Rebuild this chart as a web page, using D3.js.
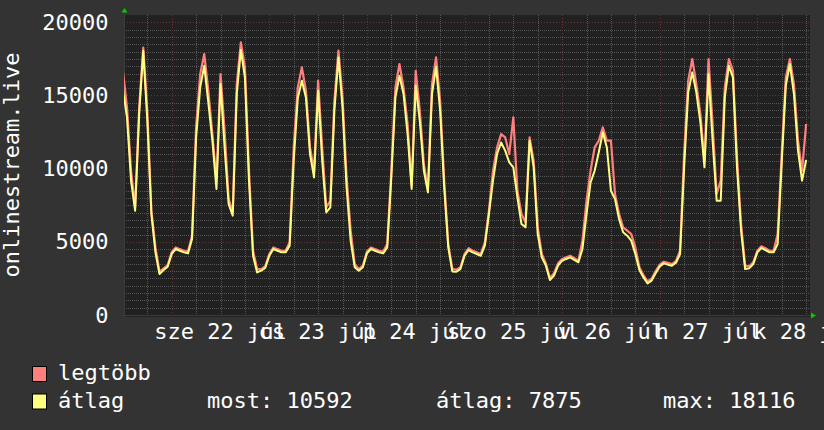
<!DOCTYPE html>
<html>
<head>
<meta charset="utf-8">
<script src="https://cdn.jsdelivr.net/npm/d3@7/dist/d3.min.js"></script>
<style>
  body { margin: 0; background: #333333; }
  text { font-family: "DejaVu Sans Mono", monospace; fill: #ffffff; }
</style>
</head>
<body>
<div id="vis-container"></div>
<script>
// hourly samples, starting 21 Jul 12:00
var startTime = new Date(2015, 6, 21, 12, 0);

// "átlag" series (average)
var avgValues = [
  15440, 13500, 9180, 7130, 13730, 18060, 13270, 6900, 4280, 2800,
  3070, 3300, 4170, 4510, 4390, 4280, 4210, 5190, 12140, 15550,
  17030, 14530, 11910, 8610, 15780, 11450, 7580, 6790, 15100, 18116,
  16230, 9180, 4050, 2910, 3030, 3210, 4050, 4510, 4390, 4280,
  4280, 4740, 10540, 14820, 16010, 14870, 11000, 9400, 15320, 10540,
  7010, 7350, 13960, 17600, 14190, 8720, 5080, 3260, 3030, 3260,
  4210, 4510, 4390, 4280, 4210, 4620, 9400, 14870, 16350, 15100,
  12360, 8610, 15670, 13270, 9860, 8380, 15100, 16960, 13960, 8720,
  4620, 2980, 2960, 3140, 4050, 4440, 4280, 4170, 4050, 4740,
  6900, 9180, 11000, 11790, 11230, 10430, 10090, 8040, 6220, 5990,
  11910, 10090, 5530, 3940, 3370, 2390, 2690, 3370, 3710, 3830,
  3940, 3760, 3600, 4510, 6900, 9060, 9860, 11110, 12480, 11450,
  8490, 7920, 6560, 5650, 5420, 5080, 4170, 3070, 2570, 2160,
  2350, 2850, 3320, 3530, 3440, 3370, 3570, 4170, 10090, 15210,
  16580, 15210, 13160, 10090, 16460, 11910, 7810, 7810, 14870, 17030,
  16230, 10090, 5760, 3140, 3190, 3480, 4280, 4580, 4440, 4280,
  4280, 4850, 10430, 15670, 17150, 15100, 11230, 9180, 10592
];

// "legtöbb" series (maximum)
var maxValues = [
  16690, 14190, 9860, 7350, 14190, 18280, 13960, 7130, 4620, 2950,
  3180, 3400, 4300, 4620, 4500, 4390, 4330, 5420, 12820, 16460,
  17830, 15320, 12360, 9180, 16460, 12590, 7920, 7020, 15780, 18630,
  16920, 9860, 4390, 3140, 3140, 3330, 4170, 4620, 4500, 4390,
  4390, 4970, 11450, 15550, 16920, 15320, 11450, 9860, 16010, 11450,
  7350, 7810, 14640, 18060, 14870, 9400, 5760, 3480, 3140, 3370,
  4330, 4620, 4500, 4390, 4330, 4850, 9860, 15550, 17150, 15550,
  13050, 8840, 16690, 13960, 10320, 8610, 15780, 17600, 14640, 9180,
  4850, 3140, 3100, 3260, 4170, 4560, 4390, 4280, 4170, 4970,
  7130, 9860, 11450, 12360, 12140, 11000, 13500, 8490, 6900, 6330,
  12140, 10540, 5990, 4170, 3530, 2530, 2850, 3530, 3830, 3940,
  4050, 3880, 3710, 5080, 7810, 9860, 11450, 11910, 12820, 11910,
  11910, 8270, 6900, 5990, 5760, 5530, 4620, 3260, 2720, 2300,
  2480, 3000, 3440, 3640, 3560, 3480, 3690, 4390, 11000, 16010,
  17490, 15780, 13730, 10540, 17490, 13050, 8270, 9180, 15550, 17490,
  16690, 10770, 6220, 3370, 3330, 3600, 4390, 4690, 4560, 4390,
  4390, 5530, 11000, 16230, 17490, 15780, 11910, 9860, 13050
];

// x labels (one per day, centred at noon)
var dayNames = ["sze", "cs", "p", "szo", "v", "h", "k"];
var dayNums = [22, 23, 24, 25, 26, 27, 28];
var monthName = "júl";

var yTicks = [0, 5000, 10000, 15000, 20000];
var yLabel = "onlinestream.live";

var seriesNames = ["legtöbb", "átlag"];
var statLabels = ["most:", "átlag:", "max:"];
var statValues = [10592, 7875, 18116];

var width = 824;
var height = 430;
var plot = { left: 124, right: 810, top: 15, bottom: 315 };

var svg = d3.select("#vis-container").append("svg")
    .attr("width", width)
    .attr("height", height);

svg.append("rect")
    .attr("width", width).attr("height", height)
    .attr("fill", "#333333");

// plot background
svg.append("rect")
    .attr("x", plot.left).attr("y", plot.top)
    .attr("width", plot.right - plot.left)
    .attr("height", plot.bottom - plot.top + 2)
    .attr("fill", "#212121");

var x = d3.scaleTime()
    .domain([new Date(2015, 6, 21, 12, 16), new Date(2015, 6, 28, 12, 57)])
    .range([plot.left, plot.right]);
var y = d3.scaleLinear()
    .domain([0, 20500])
    .range([plot.bottom, plot.top]);

var data = avgValues.map(function (v, i) {
    return { t: d3.timeHour.offset(startTime, i), avg: v, max: maxValues[i] };
});

// grid (dotted, rrdtool style)
var grid = svg.append("g").attr("shape-rendering", "crispEdges");
var minorY = d3.range(500, 20500, 500).filter(d => d % 5000 !== 0);
grid.selectAll(".hminor").data(minorY).enter().append("line")
    .attr("x1", plot.left).attr("x2", plot.right)
    .attr("y1", d => Math.round(y(d)) + 0.5).attr("y2", d => Math.round(y(d)) + 0.5)
    .attr("stroke", "#555555").attr("stroke-dasharray", "1,1");

var sixHours = d3.timeHour.every(6).range(x.domain()[0], x.domain()[1])
    .filter(d => d.getHours() !== 0);
grid.selectAll(".vminor").data(sixHours).enter().append("line")
    .attr("y1", plot.top).attr("y2", plot.bottom + 2)
    .attr("x1", d => Math.round(x(d)) + 0.5).attr("x2", d => Math.round(x(d)) + 0.5)
    .attr("stroke", "#555555").attr("stroke-dasharray", "1,1");

grid.selectAll(".hmajor").data(yTicks).enter().append("line")
    .attr("x1", plot.left).attr("x2", plot.right)
    .attr("y1", d => Math.round(y(d)) + 0.5).attr("y2", d => Math.round(y(d)) + 0.5)
    .attr("stroke", "#6e3232").attr("stroke-dasharray", "1,2");

var midnights = d3.timeDay.range(x.domain()[0], x.domain()[1]);
grid.selectAll(".vmajor").data(midnights).enter().append("line")
    .attr("y1", plot.top).attr("y2", plot.bottom + 2)
    .attr("x1", d => Math.round(x(d)) + 0.5).attr("x2", d => Math.round(x(d)) + 0.5)
    .attr("stroke", "#6e3232").attr("stroke-dasharray", "1,2");

// axis lines + arrows
svg.append("line")
    .attr("x1", plot.left + 0.5).attr("x2", plot.left + 0.5)
    .attr("y1", plot.top - 3).attr("y2", plot.bottom + 2)
    .attr("stroke", "#3c3c3c");
svg.append("line")
    .attr("x1", plot.left - 2).attr("x2", plot.right + 2)
    .attr("y1", plot.bottom + 0.5).attr("y2", plot.bottom + 0.5)
    .attr("stroke", "#3c3c3c");
svg.append("path")
    .attr("d", "M" + (plot.left - 2.5) + "," + 12.5 + "L" + (plot.left + 3.5) + "," + 12.5 + "L" + (plot.left + 0.5) + "," + 8 + "Z")
    .attr("fill", "#00cc00");
svg.append("path")
    .attr("d", "M" + (plot.right + 1) + "," + (plot.bottom - 2.5) + "L" + (plot.right + 1) + "," + (plot.bottom + 3.5) + "L" + (plot.right + 6) + "," + (plot.bottom + 0.5) + "Z")
    .attr("fill", "#00cc00");

// lines
svg.append("clipPath").attr("id", "clip").append("rect")
    .attr("x", plot.left).attr("y", plot.top)
    .attr("width", plot.right - plot.left).attr("height", plot.bottom - plot.top);

var lines = svg.append("g").attr("clip-path", "url(#clip)");
var maxLine = d3.line().x(d => x(d.t)).y(d => y(d.max));
var avgLine = d3.line().x(d => x(d.t)).y(d => y(d.avg));

lines.append("path").datum(data)
    .attr("d", maxLine)
    .attr("fill", "none").attr("stroke", "#ff7f7f").attr("stroke-width", 2.2)
    .attr("stroke-linejoin", "round");
lines.append("path").datum(data)
    .attr("d", avgLine)
    .attr("fill", "none").attr("stroke", "#ffff7f").attr("stroke-width", 2)
    .attr("stroke-linejoin", "round");

// y tick labels
svg.selectAll(".ylab").data(yTicks).enter().append("text")
    .attr("x", 108.5)
    .attr("y", d => y(d) + 7.5)
    .attr("text-anchor", "end")
    .style("font-size", "22px")
    .text(d => d);

// y title
svg.append("text")
    .attr("transform", "translate(19,165) rotate(-90)")
    .attr("text-anchor", "middle")
    .style("font-size", "22px")
    .text(yLabel);

// x labels
svg.selectAll(".xlab").data(dayNums).enter().append("text")
    .attr("x", (d, i) => x(d3.timeHour.offset(midnights[i], 12)))
    .attr("y", 339)
    .attr("text-anchor", "middle")
    .style("font-size", "22px")
    .text((d, i) => dayNames[i] + " " + d + " " + monthName);

// legend
var legendColors = ["#ff7f7f", "#ffff7f"];
var legend = svg.append("g");
seriesNames.forEach(function (name, i) {
    legend.append("rect")
        .attr("x", 32.5).attr("y", 366.5 + i * 27.5)
        .attr("width", 14).attr("height", 15)
        .attr("fill", legendColors[i]).attr("stroke", "#000");
    legend.append("text")
        .attr("x", 58).attr("y", 380 + i * 28)
        .style("font-size", "22px")
        .text(name);
});
var statX = [207, 436, 663];
statLabels.forEach(function (lab, i) {
    legend.append("text")
        .attr("x", statX[i]).attr("y", 408)
        .style("font-size", "22px")
        .text(lab + " " + statValues[i]);
});
</script>
</body>
</html>
